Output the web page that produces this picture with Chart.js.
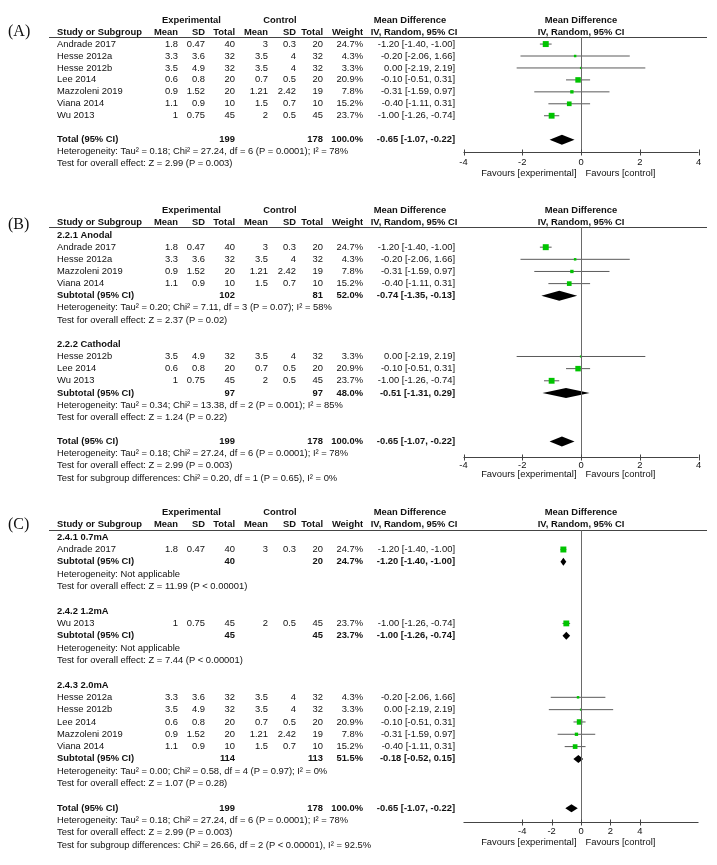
<!DOCTYPE html>
<html>
<head>
<meta charset="utf-8">
<script src="https://cdn.jsdelivr.net/npm/chart.js@4.4.1/dist/chart.umd.min.js"></script>
<style>
  html, body { margin: 0; padding: 0; background: #fff; }
  #wrap { position: relative; width: 717px; height: 865px; overflow: hidden; }
  canvas { position: absolute; left: 0; }
</style>
</head>
<body>
<div id="wrap">
  <canvas id="pA" width="717" height="190" style="top:0px"></canvas>
  <canvas id="pB" width="717" height="298" style="top:190px"></canvas>
  <canvas id="pC" width="717" height="377" style="top:488px"></canvas>
</div>
<script>
// ---- study data ----
const STUDY    = ['Andrade 2017', 'Hesse 2012a', 'Hesse 2012b', 'Lee 2014', 'Mazzoleni 2019', 'Viana 2014', 'Wu 2013'];
const EXP_MEAN = [1.8, 3.3, 3.5, 0.6, 0.9, 1.1, 1];
const EXP_SD   = [0.47, 3.6, 4.9, 0.8, 1.52, 0.9, 0.75];
const EXP_N    = [40, 32, 32, 20, 20, 10, 45];
const CTL_MEAN = [3, 3.5, 3.5, 0.7, 1.21, 1.5, 2];
const CTL_SD   = [0.3, 4, 4, 0.5, 2.42, 0.7, 0.5];
const CTL_N    = [20, 32, 32, 20, 19, 10, 45];
const WEIGHT   = [24.7, 4.3, 3.3, 20.9, 7.8, 15.2, 23.7];
const MD       = [-1.20, -0.20, 0.00, -0.10, -0.31, -0.40, -1.00];
const CI_LO    = [-1.40, -2.06, -2.19, -0.51, -1.59, -1.11, -1.26];
const CI_HI    = [-1.00, 1.66, 2.19, 0.31, 0.97, 0.31, -0.74];

// overall pooled result
const TOTAL_EXP_N = 199, TOTAL_CTL_N = 178;
const TOTAL_MD = -0.65, TOTAL_LO = -1.07, TOTAL_HI = -0.22;
const TOTAL_HET  = 'Heterogeneity: Tau\u00b2 = 0.18; Chi\u00b2 = 27.24, df = 6 (P = 0.0001); I\u00b2 = 78%';
const TOTAL_TEST = 'Test for overall effect: Z = 2.99 (P = 0.003)';

// (B) stimulation polarity subgroups
const B_GROUPS    = ['2.2.1 Anodal', '2.2.2 Cathodal'];
const B_MEMBERS   = [[0, 1, 4, 5], [2, 3, 6]];
const B_SUB_EXP_N = [102, 97];
const B_SUB_CTL_N = [81, 97];
const B_SUB_W     = [52.0, 48.0];
const B_SUB_MD    = [-0.74, -0.51];
const B_SUB_LO    = [-1.35, -1.31];
const B_SUB_HI    = [-0.13, 0.29];
const B_SUB_HET   = ['Heterogeneity: Tau\u00b2 = 0.20; Chi\u00b2 = 7.11, df = 3 (P = 0.07); I\u00b2 = 58%',
                     'Heterogeneity: Tau\u00b2 = 0.34; Chi\u00b2 = 13.38, df = 2 (P = 0.001); I\u00b2 = 85%'];
const B_SUB_TEST  = ['Test for overall effect: Z = 2.37 (P = 0.02)', 'Test for overall effect: Z = 1.24 (P = 0.22)'];
const B_DIFF_TEST = 'Test for subgroup differences: Chi\u00b2 = 0.20, df = 1 (P = 0.65), I\u00b2 = 0%';

// (C) current intensity subgroups
const C_GROUPS    = ['2.4.1 0.7mA', '2.4.2 1.2mA', '2.4.3 2.0mA'];
const C_MEMBERS   = [[0], [6], [1, 2, 3, 4, 5]];
const C_SUB_EXP_N = [40, 45, 114];
const C_SUB_CTL_N = [20, 45, 113];
const C_SUB_W     = [24.7, 23.7, 51.5];
const C_SUB_MD    = [-1.20, -1.00, -0.18];
const C_SUB_LO    = [-1.40, -1.26, -0.52];
const C_SUB_HI    = [-1.00, -0.74, 0.15];
const C_SUB_HET   = ['Heterogeneity: Not applicable', 'Heterogeneity: Not applicable',
                     'Heterogeneity: Tau\u00b2 = 0.00; Chi\u00b2 = 0.58, df = 4 (P = 0.97); I\u00b2 = 0%'];
const C_SUB_TEST  = ['Test for overall effect: Z = 11.99 (P < 0.00001)', 'Test for overall effect: Z = 7.44 (P < 0.00001)',
                     'Test for overall effect: Z = 1.07 (P = 0.28)'];
const C_DIFF_TEST = 'Test for subgroup differences: Chi\u00b2 = 26.66, df = 2 (P < 0.00001), I\u00b2 = 92.5%';

const TICKS_AB = [-4, -2, 0, 2, 4];
const TICKS_C  = [-4, -2, 0, 2, 4];

// ---- look ----
const FONT  = "'Liberation Sans', Arial, sans-serif";
const FSIZE = 9.4;
const GREEN = '#00c400';
const LINE  = '#5a5a5a';

// column x positions (px), text is right aligned unless noted
const COL = { name: 57, eMean: 178, eSd: 205, eN: 235, cMean: 268, cSd: 296, cN: 323, w: 363, ci: 455 };

const fmt = v => v.toFixed(2);
const ciText = (m, l, h) => `${fmt(m)} [${fmt(l)}, ${fmt(h)}]`;

function makeGroups(titles, members, en, cn, w, md, lo, hi, het, test) {
  return titles.map((t, k) => ({
    title: t, members: members[k],
    sub: { en: en[k], cn: cn[k], w: w[k], md: md[k], lo: lo[k], hi: hi[k], het: het[k], test: test[k] }
  }));
}

function buildRows(groups, diffTest) {
  const rows = [];
  groups.forEach(g => {
    if (g.title) rows.push({ kind: 'group', text: g.title });
    g.members.forEach(i => rows.push({ kind: 'study', i }));
    if (g.sub) {
      rows.push({ kind: 'sub', ...g.sub });
      rows.push({ kind: 'note', text: g.sub.het });
      rows.push({ kind: 'note', text: g.sub.test });
    }
    rows.push({ kind: 'blank' });
  });
  rows.push({ kind: 'total' });
  rows.push({ kind: 'note', text: TOTAL_HET });
  rows.push({ kind: 'note', text: TOTAL_TEST });
  if (diffTest) rows.push({ kind: 'note', text: diffTest });
  return rows;
}

const PANELS = [
  { id: 'pA', label: '(A)', top: 0, labelY: 31.7, y0: 41.7, step: 12.5, xMin: -4, xMax: 4, ticks: TICKS_AB,
    axisY: 152.3, tickDy: 9.7, favDy: 20.7, dia: 5,
    rows: buildRows([{ members: [0, 1, 2, 3, 4, 5, 6] }], null) },
  { id: 'pB', label: '(B)', top: 190, labelY: 225, y0: 232, step: 12.5, xMin: -4, xMax: 4, ticks: TICKS_AB,
    axisY: 456.7, tickDy: 8, favDy: 17, dia: 5,
    rows: buildRows(makeGroups(B_GROUPS, B_MEMBERS, B_SUB_EXP_N, B_SUB_CTL_N, B_SUB_W, B_SUB_MD, B_SUB_LO, B_SUB_HI, B_SUB_HET, B_SUB_TEST), B_DIFF_TEST) },
  { id: 'pC', label: '(C)', top: 488, labelY: 525, y0: 534, step: 12.6, xMin: -8, xMax: 8, ticks: TICKS_C,
    axisY: 822, tickDy: 9, favDy: 20, dia: 4,
    rows: buildRows(makeGroups(C_GROUPS, C_MEMBERS, C_SUB_EXP_N, C_SUB_CTL_N, C_SUB_W, C_SUB_MD, C_SUB_LO, C_SUB_HI, C_SUB_HET, C_SUB_TEST), C_DIFF_TEST) }
];

function txt(ctx, s, x, y, align, bold) {
  ctx.font = `${bold ? 'bold ' : ''}${FSIZE}px ${FONT}`;
  ctx.textAlign = align;
  ctx.fillText(s, x, y);
}

const forestPlugin = {
  id: 'forest',
  afterDatasetsDraw(chart) {
    const p = chart.$panel, ctx = chart.ctx, xs = chart.scales.x, ys = chart.scales.y;
    ctx.save();
    ctx.fillStyle = '#000';
    p.rows.forEach((r, k) => {
      let m, l, h;
      if (r.kind === 'sub') { m = r.md; l = r.lo; h = r.hi; }
      else if (r.kind === 'total') { m = TOTAL_MD; l = TOTAL_LO; h = TOTAL_HI; }
      else return;
      const y = ys.getPixelForValue(k);
      ctx.beginPath();
      ctx.moveTo(xs.getPixelForValue(l), y);
      ctx.lineTo(xs.getPixelForValue(m), y - p.dia);
      ctx.lineTo(xs.getPixelForValue(h), y);
      ctx.lineTo(xs.getPixelForValue(m), y + p.dia);
      ctx.closePath();
      ctx.fill();
    });
    ctx.restore();
  },
  afterDraw(chart) {
    const p = chart.$panel, ctx = chart.ctx, xs = chart.scales.x, ys = chart.scales.y;
    const top = p.top;
    ctx.save();
    ctx.fillStyle = '#111';
    ctx.textBaseline = 'middle';

    // panel letter
    ctx.font = `16px 'Liberation Serif', 'Times New Roman', serif`;
    ctx.textAlign = 'left';
    ctx.fillText(p.label, 8, p.labelY - top);

    // header
    const h1 = ys.getPixelForValue(-2), h2 = ys.getPixelForValue(-1);
    const zx = xs.getPixelForValue(0);
    txt(ctx, 'Experimental', 191.5, h1, 'center', true);
    txt(ctx, 'Control', 280, h1, 'center', true);
    txt(ctx, 'Mean Difference', 410, h1, 'center', true);
    txt(ctx, 'Mean Difference', zx, h1, 'center', true);
    txt(ctx, 'Study or Subgroup', COL.name, h2, 'left', true);
    txt(ctx, 'Mean', COL.eMean, h2, 'right', true);
    txt(ctx, 'SD', COL.eSd, h2, 'right', true);
    txt(ctx, 'Total', COL.eN, h2, 'right', true);
    txt(ctx, 'Mean', COL.cMean, h2, 'right', true);
    txt(ctx, 'SD', COL.cSd, h2, 'right', true);
    txt(ctx, 'Total', COL.cN, h2, 'right', true);
    txt(ctx, 'Weight', COL.w, h2, 'right', true);
    txt(ctx, 'IV, Random, 95% CI', 414, h2, 'center', true);
    txt(ctx, 'IV, Random, 95% CI', zx, h2, 'center', true);

    const uy = Math.round(ys.getPixelForValue(-0.62)) + 0.5;
    const ay = Math.round(p.axisY - top) + 0.5;
    ctx.strokeStyle = '#444';
    ctx.lineWidth = 1;
    ctx.beginPath();
    ctx.moveTo(49, uy); ctx.lineTo(707, uy);
    ctx.stroke();

    // no-effect line
    ctx.strokeStyle = '#6a6a6a';
    ctx.beginPath();
    ctx.moveTo(Math.round(zx) + 0.5, uy); ctx.lineTo(Math.round(zx) + 0.5, ay);
    ctx.stroke();

    // axis
    ctx.strokeStyle = '#444';
    ctx.beginPath();
    ctx.moveTo(xs.getPixelForValue(p.xMin), ay); ctx.lineTo(xs.getPixelForValue(p.xMax), ay);
    p.ticks.forEach(t => {
      const tx = Math.round(xs.getPixelForValue(t)) + 0.5;
      ctx.moveTo(tx, ay - 3); ctx.lineTo(tx, ay + 3);
    });
    ctx.stroke();
    p.ticks.forEach(t => txt(ctx, String(t), xs.getPixelForValue(t), ay + p.tickDy, 'center', false));
    txt(ctx, 'Favours [experimental]', zx - 4.5, ay + p.favDy, 'right', false);
    txt(ctx, 'Favours [control]', zx + 4.5, ay + p.favDy, 'left', false);

    // table rows
    p.rows.forEach((r, k) => {
      const y = ys.getPixelForValue(k);
      if (r.kind === 'group') txt(ctx, r.text, COL.name, y, 'left', true);
      else if (r.kind === 'note') txt(ctx, r.text, COL.name, y, 'left', false);
      else if (r.kind === 'study') {
        const i = r.i;
        txt(ctx, STUDY[i], COL.name, y, 'left', false);
        txt(ctx, String(EXP_MEAN[i]), COL.eMean, y, 'right', false);
        txt(ctx, String(EXP_SD[i]), COL.eSd, y, 'right', false);
        txt(ctx, String(EXP_N[i]), COL.eN, y, 'right', false);
        txt(ctx, String(CTL_MEAN[i]), COL.cMean, y, 'right', false);
        txt(ctx, String(CTL_SD[i]), COL.cSd, y, 'right', false);
        txt(ctx, String(CTL_N[i]), COL.cN, y, 'right', false);
        txt(ctx, WEIGHT[i].toFixed(1) + '%', COL.w, y, 'right', false);
        txt(ctx, ciText(MD[i], CI_LO[i], CI_HI[i]), COL.ci, y, 'right', false);
      } else if (r.kind === 'sub' || r.kind === 'total') {
        const isT = r.kind === 'total';
        txt(ctx, isT ? 'Total (95% CI)' : 'Subtotal (95% CI)', COL.name, y, 'left', true);
        txt(ctx, String(isT ? TOTAL_EXP_N : r.en), COL.eN, y, 'right', true);
        txt(ctx, String(isT ? TOTAL_CTL_N : r.cn), COL.cN, y, 'right', true);
        txt(ctx, (isT ? 100 : r.w).toFixed(1) + '%', COL.w, y, 'right', true);
        txt(ctx, isT ? ciText(TOTAL_MD, TOTAL_LO, TOTAL_HI) : ciText(r.md, r.lo, r.hi), COL.ci, y, 'right', true);
      }
    });
    ctx.restore();
  }
};

PANELS.forEach(p => {
  const canvas = document.getElementById(p.id);
  const H = canvas.height;
  const yMin = -(p.y0 - p.top) / p.step;
  const yMax = yMin + H / p.step;

  const squares = [], radii = [], ciSets = [];
  p.rows.forEach((r, k) => {
    if (r.kind !== 'study') return;
    const i = r.i;
    squares.push({ x: MD[i], y: k });
    radii.push(1.2 * Math.sqrt(WEIGHT[i]) / Math.SQRT2);
    ciSets.push({
      data: [{ x: CI_LO[i], y: k }, { x: CI_HI[i], y: k }],
      showLine: true, borderColor: LINE, borderWidth: 1, pointRadius: 0, clip: false
    });
  });

  const datasets = [{
    data: squares, pointStyle: 'rect', pointRadius: radii,
    backgroundColor: GREEN, borderColor: GREEN, borderWidth: 0, clip: false
  }].concat(ciSets);

  const chart = new Chart(canvas, {
    type: 'scatter',
    data: { datasets },
    options: {
      responsive: false, animation: false, devicePixelRatio: 1, events: [],
      layout: { padding: { left: 463.5, right: 18.5, top: 0, bottom: 0 } },
      plugins: { legend: { display: false }, tooltip: { enabled: false } },
      scales: {
        x: { type: 'linear', min: p.xMin, max: p.xMax, display: false },
        y: { type: 'linear', min: yMin, max: yMax, reverse: true, display: false }
      }
    },
    plugins: [{ id: 'panelRef', beforeInit(c) { c.$panel = p; } }, forestPlugin]
  });
});
</script>
</body>
</html>
